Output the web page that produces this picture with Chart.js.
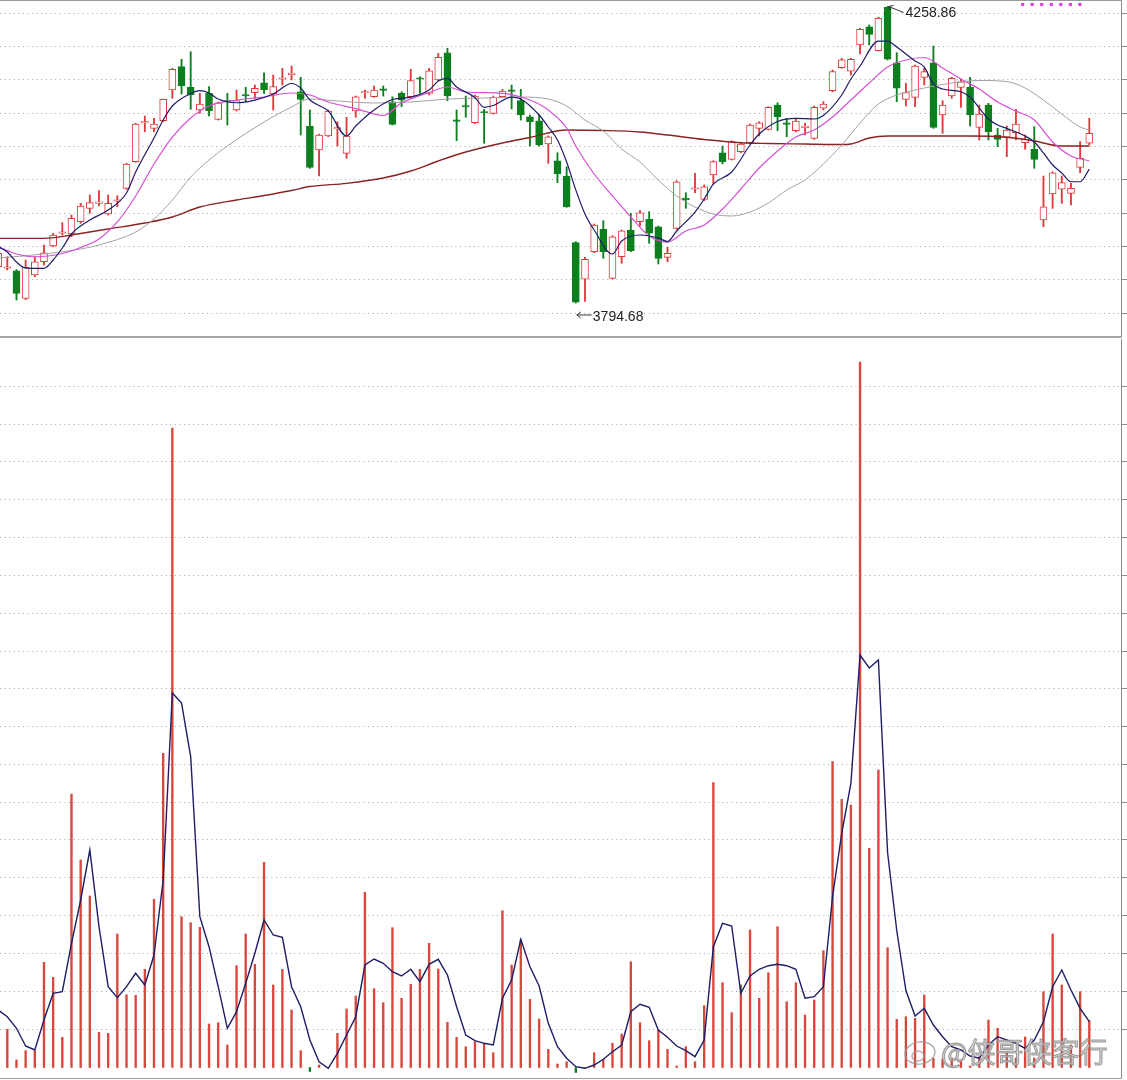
<!DOCTYPE html>
<html><head><meta charset="utf-8">
<script src="https://cdn.jsdelivr.net/npm/chart.js@4.4.0/dist/chart.umd.min.js"></script>
<style>
html,body{margin:0;padding:0;background:#fff;}
#wrap{position:relative;width:1127px;height:1080px;overflow:hidden;background:#fff;}
#wrap canvas{position:absolute;left:0;}
.hl{position:absolute;left:0;width:1122px;}
</style></head><body>
<div id="wrap">
<canvas id="k" width="1127" height="336" style="top:0"></canvas>
<canvas id="v" width="1127" height="739" style="top:339px"></canvas>
<div class="hl" style="top:0;height:1px;background:#9c9c9c"></div>
<div class="hl" style="top:336px;height:2px;background:#a4a4a4"></div>
<div class="hl" style="top:1078px;height:1px;background:#9c9c9c"></div>
</div>
<script>
// ---- categories: trading-day index ----
const dayIdx = [0,1,2,3,4,5,6,7,8,9,10,11,12,13,14,15,16,17,18,19,20,21,22,23,24,25,26,27,28,29,30,31,32,33,34,35,36,37,38,39,40,41,42,43,44,45,46,47,48,49,50,51,52,53,54,55,56,57,58,59,60,61,62,63,64,65,66,67,68,69,70,71,72,73,74,75,76,77,78,79,80,81,82,83,84,85,86,87,88,89,90,91,92,93,94,95,96,97,98,99,100,101,102,103,104,105,106,107,108,109,110,111,112,113,114,115,116,117,118,119];

// ---- daily candles (index points) ----
const open = [3851.5,3849.0,3845.2,3802.0,3838.5,3859.3,3883.9,3903.8,3902.7,3921.9,
3942.9,3950.7,3934.0,3953.9,3974.2,4015.9,4076.4,4068.1,4080.0,4128.1,
4164.6,4132.3,4096.8,4122.9,4082.2,4110.3,4096.8,4119.7,4123.9,4139.5,
4121.8,4144.9,4152.2,4125.4,4071.7,4034.2,4056.1,4067.1,4029.0,4095.2,
4123.4,4117.6,4128.6,4109.8,4122.9,4117.6,4145.8,4122.9,4143.8,4186.5,
4080.0,4102.4,4076.9,4093.0,4091.6,4117.6,4127.0,4111.4,4086.3,4080.0,
4043.6,4017.4,3993.5,3889.1,3831.8,3875.0,3910.0,3833.3,3867.1,3908.9,
3921.9,3925.7,3914.1,3866.2,3911.6,3957.5,3972.7,3957.0,3995.0,4029.9,
4019.6,4031.5,4045.6,4068.1,4066.6,4104.6,4075.3,4064.4,4069.2,4052.5,
4099.5,4127.0,4163.0,4157.8,4198.6,4227.2,4189.6,4257.6,4170.8,4113.5,
4116.7,4148.0,4170.8,4089.0,4118.7,4132.3,4132.3,4069.7,4104.6,4057.7,
4054.1,4061.3,4045.6,4035.3,3924.6,3965.3,3972.7,3966.4,4007.1,4044.7];
const close = [3872.5,3849.9,3809.8,3850.5,3859.3,3873.4,3901.1,3904.7,3927.3,3946.5,
3951.7,3951.7,3950.7,3954.8,4012.3,4074.9,4077.4,4074.9,4113.5,4160.5,
4134.4,4120.3,4106.2,4095.7,4108.2,4109.3,4111.4,4118.7,4130.8,4128.1,
4133.3,4145.8,4153.2,4113.5,4007.1,4057.7,4095.2,4068.0,4056.1,4117.6,
4124.3,4128.1,4127.6,4074.4,4112.4,4142.7,4144.9,4158.3,4179.3,4118.7,
4079.1,4101.5,4118.7,4092.1,4116.7,4126.5,4126.1,4089.0,4078.5,4042.0,
4055.0,3996.6,3944.9,3796.0,3863.1,3916.8,3875.0,3898.4,3907.8,3876.5,
3936.0,3903.8,3864.6,3872.5,3984.5,3956.5,3973.6,3976.7,4015.9,4015.9,
4047.2,4043.6,4073.3,4076.9,4101.0,4086.3,4074.4,4079.6,4070.2,4101.0,
4106.2,4156.8,4175.5,4176.2,4223.1,4215.3,4240.4,4176.2,4130.8,4123.9,
4165.7,4156.8,4069.7,4104.6,4146.4,4141.1,4089.0,4090.5,4062.8,4050.9,
4065.5,4074.9,4050.9,4019.6,3945.4,3998.6,3983.0,3974.2,4021.2,4060.3];
const high = [3877.6,3867.1,3847.1,3862.0,3867.1,3885.5,3903.8,3920.4,3932.4,3950.7,
3963.7,3970.5,3963.7,3962.6,4013.4,4076.0,4087.4,4083.8,4114.0,4162.1,
4176.2,4188.1,4122.9,4133.3,4109.3,4122.9,4128.1,4132.3,4135.9,4155.2,
4151.6,4162.1,4165.7,4148.0,4096.8,4059.2,4096.8,4078.5,4085.4,4118.7,
4128.1,4134.4,4134.4,4117.6,4125.4,4160.5,4148.9,4162.1,4185.6,4193.4,
4096.8,4118.7,4120.3,4097.9,4118.7,4129.2,4135.9,4129.2,4089.0,4089.0,
4056.1,4029.9,4008.0,3890.6,3866.2,3918.3,3923.5,3900.0,3908.9,3935.1,
3939.2,3937.6,3915.2,3881.9,3986.1,3967.3,3997.7,3979.4,4017.4,4040.4,
4048.7,4045.6,4074.9,4078.5,4102.0,4108.2,4083.8,4082.2,4076.0,4103.1,
4109.8,4159.4,4177.7,4177.7,4224.7,4229.9,4241.9,4258.86,4186.5,4138.6,
4167.2,4162.1,4197.0,4111.4,4148.0,4144.9,4148.0,4104.6,4107.3,4068.1,
4071.7,4097.9,4057.7,4070.7,3993.5,4000.2,3993.5,3982.0,4047.2,4083.8];
const low = [3846.3,3846.3,3799.3,3800.1,3835.8,3854.1,3882.8,3901.1,3898.4,3919.4,
3935.1,3946.5,3932.4,3945.4,3972.7,4014.9,4062.8,4062.8,4078.5,4115.1,
4121.8,4097.9,4091.6,4087.4,4081.1,4073.3,4095.2,4109.8,4115.1,4122.9,
4096.8,4135.9,4143.8,4057.7,4005.5,3993.5,4055.0,4040.4,4021.2,4085.4,
4115.1,4116.7,4118.7,4073.3,4102.0,4115.1,4122.9,4120.3,4142.7,4111.4,
4048.7,4085.4,4076.0,4044.7,4090.5,4116.7,4098.4,4081.1,4040.4,4040.4,
4013.4,3983.0,3944.5,3794.68,3797.0,3873.4,3864.6,3832.2,3856.8,3875.0,
3915.2,3888.1,3855.7,3859.3,3910.0,3942.9,3967.3,3954.8,3980.9,4012.3,
4018.5,4029.9,4043.6,4056.1,4065.5,4064.4,4055.0,4062.8,4057.7,4050.9,
4096.8,4125.4,4162.1,4151.6,4184.5,4198.6,4189.2,4175.1,4109.8,4103.1,
4102.0,4135.9,4068.1,4060.3,4115.1,4101.0,4071.7,4049.8,4049.8,4039.3,
4023.7,4049.8,4035.3,4005.5,3914.1,3942.9,3950.7,3948.1,3998.6,4042.0];

// ---- moving averages (day index -> level) ----
const ma5Idx = [0,1,2,3,5,6,7,8,10,12,14,15,17,18,19,21,22,23,24,26,28,30,32,33,34,36,38,39,41,43,45,47,48,49,50,52,53,54,56,57,59,60,61,62,63,64,65,67,68,70,72,73,74,76,77,78,80,82,83,85,87,89,90,92,93,94,96,97,98,100,101,102,103,105,106,107,108,109,110,112,113,114,115,116,117,118,119];
const ma5Val = [3882.8,3874.5,3858.8,3849.4,3849.0,3862.0,3880.8,3902.7,3924.6,3940.2,3966.9,3999.7,4053.0,4081.1,4103.1,4122.6,4127.0,4123.4,4114.0,4108.2,4112.4,4121.8,4138.3,4131.2,4112.4,4095.2,4056.1,4071.7,4096.8,4113.2,4117.1,4128.1,4142.2,4146.4,4132.8,4116.4,4101.0,4103.8,4117.1,4114.0,4089.0,4070.2,4049.8,4015.4,3971.6,3934.0,3908.9,3871.4,3891.7,3901.1,3896.4,3890.9,3907.4,3937.1,3957.5,3980.9,3999.7,4042.0,4059.2,4078.8,4083.8,4082.7,4088.2,4120.3,4145.3,4165.7,4204.8,4204.8,4195.4,4173.5,4164.1,4137.5,4129.7,4125.4,4117.1,4099.9,4082.7,4073.3,4068.1,4056.1,4046.7,4029.5,4010.7,3998.2,3984.5,3984.5,4004.4];
const ma10Idx = [0,2,4,7,9,11,13,15,17,19,21,23,26,29,32,34,36,39,42,44,47,49,51,55,58,60,62,63,65,67,69,71,73,75,77,79,81,83,85,87,89,91,93,95,97,99,101,103,105,107,109,111,113,115,117,119];
const ma10Val = [3882.8,3871.4,3867.1,3872.1,3881.5,3894.8,3921.5,3962.2,4012.3,4054.5,4084.3,4103.1,4112.4,4117.1,4123.4,4120.3,4109.3,4099.1,4088.2,4107.8,4124.2,4132.8,4125.0,4122.9,4112.4,4096.8,4068.6,4040.4,3996.6,3962.2,3929.3,3899.5,3890.1,3907.4,3916.8,3941.8,3973.1,4006.0,4032.6,4054.5,4065.5,4085.8,4112.4,4139.1,4164.1,4175.1,4179.0,4162.5,4145.3,4129.7,4109.3,4095.2,4081.1,4046.7,4024.8,4017.4];
const ma20Idx = [0,5,9,11,15,17,19,21,23,25,29,32,34,37,41,45,49,53,57,60,62,64,66,68,70,72,74,76,78,80,82,84,86,88,90,92,94,96,98,101,104,107,110,112,114,116,118,119];
const ma20Val = [3865.1,3871.4,3879.2,3885.5,3905.8,3926.2,3955.9,3991.9,4018.5,4040.4,4078.0,4101.5,4114.0,4110.9,4107.8,4109.3,4114.0,4115.6,4117.1,4114.0,4103.1,4081.1,4063.9,4035.7,4015.4,3987.2,3962.2,3944.9,3934.0,3930.9,3937.1,3951.2,3971.6,3987.2,4012.3,4042.0,4076.4,4106.2,4120.3,4131.2,4139.1,4143.0,4141.4,4131.2,4112.4,4090.5,4070.2,4065.5];
const ma60Idx = [0,5,8,9,12,16,19,22,26,29,32,34,38,42,45,48,51,55,58,62,66,70,73,77,81,84,88,92,93,95,97,102,106,110,113,116,119];
const ma60Val = [3895.9,3895.9,3901.1,3903.5,3910.5,3919.9,3929.3,3944.9,3955.9,3962.9,3970.8,3977.0,3982.0,3990.3,4001.3,4017.0,4031.0,4045.1,4053.7,4065.5,4064.7,4062.4,4057.7,4050.6,4045.6,4044.4,4043.6,4042.8,4043.6,4053.0,4056.1,4056.1,4056.1,4054.1,4048.3,4040.4,4040.4];

// ---- lower panel: volume-type indicator and its average ----
const volume = [67.5,38.2,7.5,16.8,16.8,105.2,90.2,30.2,273.5,207.5,
171.5,35.2,34.2,133.5,72.8,72.2,98.2,168.2,314.2,639.5,
150.8,144.8,140.2,43.5,44.8,22.5,101.8,133.5,103.2,205.2,
82.5,98.2,57.5,16.8,-4,2.5,0,34.2,58.5,71.5,
175.2,78.8,64.8,139.8,69.2,83.2,98.2,124.2,98.5,45.2,
30.2,20.8,25.8,23.5,14.8,156.8,102.5,127.5,68.2,48.5,
18.2,3.5,5.8,-5,0,14.8,8.2,24.2,33.5,105.8,
44.8,26.8,37.5,18.2,1.5,20.8,5.8,61.8,284.8,84.8,
54.8,82.5,137.5,69.2,94.8,140.8,65.8,84.8,52.5,67.5,
116.8,305.8,268.2,262.5,705.5,219.2,297.5,119.8,48.2,50.8,
49.2,72.5,9.2,8.5,9.5,7.5,1.5,10.8,47.5,39.2,
15.5,9.5,30.5,9.5,75.8,133.5,82.5,22.5,75.8,47];
const volMA = [57.5,50.8,39.2,21.5,17.5,47.5,74.2,75.8,124.2,167.5,
217.5,140.8,80.8,69.8,80.8,94.2,82.5,112.5,187.5,374.5,
364.5,310.8,150.8,120.8,80.8,39.2,55.8,84.2,114.2,147.5,
132.5,130.2,80.8,60.8,27.5,5.8,-0.8,14.2,32.5,50.8,
102.5,108.5,104.2,95.8,91.5,98.2,85.8,103.2,108.2,92.5,
60.8,32.5,26.8,24.2,22.5,69.2,87.5,128.2,100.8,81.5,
44.2,20.8,9.2,0.8,-0.8,2.5,8.2,15.8,22.5,55.8,
63.2,60.2,37.5,30.2,21.5,16.8,10.8,27.5,120.8,144.2,
141.5,74.2,91.5,98.2,101.8,103.2,101.8,98.2,69.2,70.8,
80.8,170.8,234.2,284.2,412.5,399.5,407.5,215,137,77,
51.5,59.2,42.5,30.8,20.8,17.5,11.5,9.2,22.5,30.8,
27.5,24.2,19.2,27.5,45.8,80.8,97.5,77.5,59.2,45.8];

// ---- grid levels ----
const priceGrid = [4248.2,4196.0,4143.8,4091.7,4039.5,3987.3,3935.1,3882.9,3830.7,3778.6];
const volGrid = [38.5,76.3,114.1,151.9,189.7,227.5,265.3,303.1,340.9,378.7,416.5,454.3,492.1,529.9,567.7,605.5,643.3,681.1];

const RED = '#e0393b', GREEN = '#0e7f1f', NAVY = '#1d1d68';
const pts = (ix, vals) => ix.map((d, i) => ({x: d, y: vals[i]}));
const up = dayIdx.map((d, i) => close[i] >= open[i]);

const xScale = {type: 'linear', min: 0.204, max: 122.457, offset: false, display: false};
function yAxis(min, max, grid) {
  return {
    position: 'right', min, max,
    afterBuildTicks: s => { s.ticks = grid.map(v => ({value: v})); },
    ticks: {display: false},
    grid: {color: '#a6a6a6', lineWidth: 1, drawTicks: true, tickLength: 6, tickColor: '#8d8d8d', tickWidth: 1},
    border: {display: true, color: '#8d8d8d', width: 1, dash: [1, 3.6]}
  };
}

const annot = {
  id: 'annot',
  afterDatasetsDraw(chart) {
    const {ctx} = chart, xs = chart.scales.x, ys = chart.scales.y;
    let hi = 0, lo = 0;
    dayIdx.forEach((d, i) => { if (high[i] > high[hi]) hi = i; if (low[i] < low[lo]) lo = i; });
    ctx.save();
    ctx.strokeStyle = '#333'; ctx.fillStyle = '#222'; ctx.lineWidth = 1;
    ctx.font = '14px "Liberation Sans", Arial, sans-serif';
    ctx.textBaseline = 'middle';
    // high
    const hx = xs.getPixelForValue(dayIdx[hi]) + 1, hy = ys.getPixelForValue(high[hi]);
    ctx.beginPath(); ctx.moveTo(hx, hy); ctx.lineTo(hx + 15, hy + 6);
    ctx.moveTo(hx, hy); ctx.lineTo(hx + 5, hy - 1);
    ctx.moveTo(hx, hy); ctx.lineTo(hx + 2, hy + 4); ctx.stroke();
    ctx.fillText(high[hi].toFixed(2), hx + 17, hy + 7);
    // low
    const lx = xs.getPixelForValue(dayIdx[lo]) + 1, ly = ys.getPixelForValue(low[lo]) + 12;
    ctx.beginPath(); ctx.moveTo(lx, ly); ctx.lineTo(lx + 15, ly);
    ctx.moveTo(lx, ly); ctx.lineTo(lx + 4, ly - 3);
    ctx.moveTo(lx, ly); ctx.lineTo(lx + 4, ly + 3); ctx.stroke();
    ctx.fillText(low[lo].toFixed(2), lx + 16, ly + 2);
    // small magenta marker at top right
    ctx.fillStyle = '#e23fe0';
    for (let k = 0; k < 7; k++) ctx.fillRect(1021 + k * 9.55, 3, 3.2, 3);
    ctx.restore();
  }
};

new Chart(document.getElementById('k'), {
  type: 'bar',
  data: {datasets: [
    {type: 'line', data: pts(ma5Idx, ma5Val), borderColor: NAVY, borderWidth: 1.2, pointRadius: 0, cubicInterpolationMode: 'monotone', order: 1},
    {type: 'line', data: pts(ma10Idx, ma10Val), borderColor: '#d64fd6', borderWidth: 1.2, pointRadius: 0, cubicInterpolationMode: 'monotone', order: 1},
    {type: 'line', data: pts(ma20Idx, ma20Val), borderColor: '#a2a2a2', borderWidth: 1, pointRadius: 0, cubicInterpolationMode: 'monotone', order: 1},
    {type: 'line', data: pts(ma60Idx, ma60Val), borderColor: '#8a2323', borderWidth: 1.4, pointRadius: 0, cubicInterpolationMode: 'monotone', order: 1},
    {data: dayIdx.map((d, i) => ({x: d, y: [open[i], close[i]]})),
     backgroundColor: up.map(u => u ? '#ffffff' : GREEN), borderColor: up.map(u => u ? RED : GREEN),
     borderWidth: 1, borderSkipped: false, barThickness: 7, minBarLength: 1.5, grouped: false, order: 2},
    {data: dayIdx.map((d, i) => ({x: d, y: [low[i], high[i]]})),
     backgroundColor: up.map(u => u ? RED : GREEN), borderWidth: 0, barThickness: 1.2, grouped: false, order: 3}
  ]},
  options: {
    responsive: false, animation: false, devicePixelRatio: 1,
    layout: {padding: 0},
    plugins: {legend: {display: false}, tooltip: {enabled: false}},
    scales: {x: xScale, y: yAxis(3743.0, 4269.03, priceGrid)}
  },
  plugins: [annot]
});

const mark = {
  id: 'mark',
  afterDraw(chart) {
    const {ctx} = chart;
    ctx.save();
    ctx.strokeStyle = 'rgba(150,150,150,0.75)'; ctx.lineWidth = 1.5;
    ctx.beginPath(); ctx.ellipse(920, 714, 15, 11, -0.15, 0, Math.PI * 2); ctx.stroke();
    ctx.beginPath(); ctx.ellipse(918, 717, 6, 5, 0, 0, Math.PI * 2); ctx.stroke();
    ctx.font = '28px "Noto Sans CJK SC", sans-serif';
    ctx.textBaseline = 'middle';
    ctx.fillStyle = 'rgba(205,205,205,0.85)';
    ctx.strokeStyle = 'rgba(135,135,135,0.8)'; ctx.lineWidth = 1;
    ctx.fillText('@侠哥侠客行', 941, 713);
    ctx.strokeText('@侠哥侠客行', 941, 713);
    ctx.restore();
  }
};

new Chart(document.getElementById('v'), {
  type: 'bar',
  data: {datasets: [
    {type: 'line', data: dayIdx.map((d, i) => ({x: d, y: volMA[i]})), borderColor: NAVY, borderWidth: 1.4, pointRadius: 0, tension: 0, order: 1},
    {data: dayIdx.map((d, i) => ({x: d, y: volume[i]})), backgroundColor: volume.map(v => v < 0 ? GREEN : '#d9473c'),
     borderWidth: 0, barThickness: 1.7, grouped: false, order: 2}
  ]},
  options: {
    responsive: false, animation: false, devicePixelRatio: 1,
    layout: {padding: 0},
    plugins: {legend: {display: false}, tooltip: {enabled: false}},
    scales: {x: xScale, y: yAxis(-10.5, 728.5, volGrid)}
  },
  plugins: [mark]
});
</script>
</body></html>
